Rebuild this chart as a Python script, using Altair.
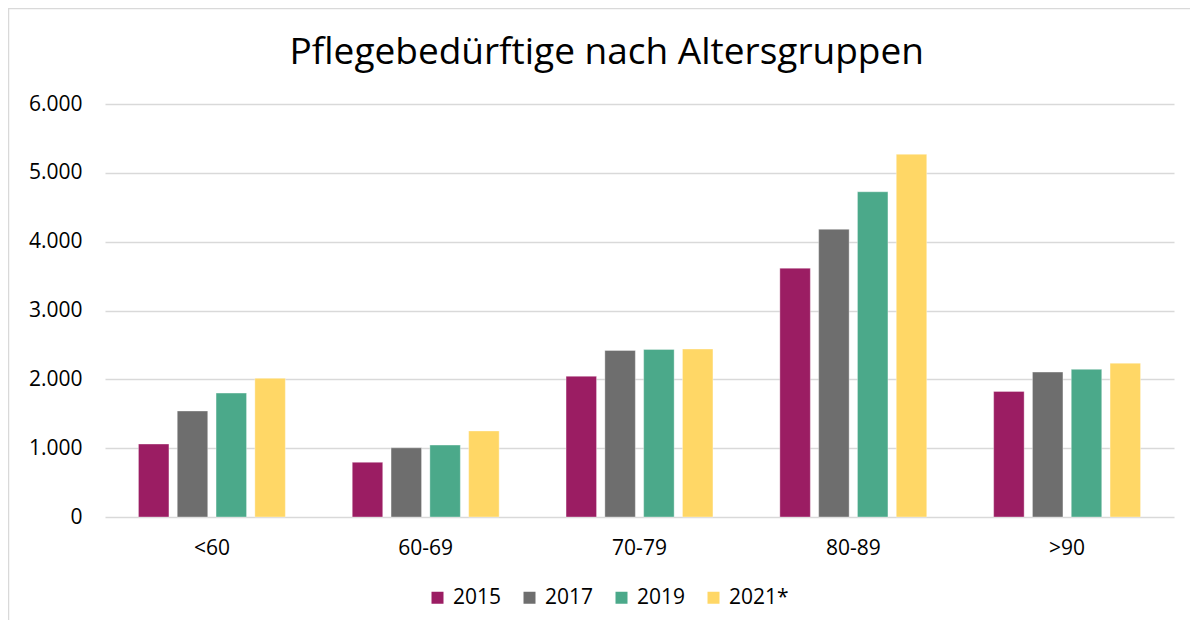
import altair as alt
import pandas as pd

categories = ["<60", "60-69", "70-79", "80-89", ">90"]
years = ["2015", "2017", "2019", "2021*"]
v2015 = [1060, 795, 2045, 3615, 1825]
v2017 = [1540, 1005, 2420, 4180, 2105]
v2019 = [1800, 1045, 2435, 4725, 2145]
v2021 = [2015, 1250, 2440, 5270, 2235]
colors = ["#9B1D63", "#6E6E6E", "#4BA98A", "#FFD766"]

series = [v2015, v2017, v2019, v2021]
rows = []
for y, vals in zip(years, series):
    for c, v in zip(categories, vals):
        rows.append({"Altersgruppe": c, "Jahr": y, "Wert": v})
df = pd.DataFrame(rows)

FONT = "Open Sans"

bars = alt.Chart(df).mark_bar(stroke="white", strokeWidth=0.6, strokeOpacity=0.6).encode(
    x=alt.X("Altersgruppe:N", sort=categories, title=None,
            scale=alt.Scale(paddingInner=0, paddingOuter=0),
            axis=alt.Axis(labelAngle=0, domain=False, ticks=False, labelPadding=20,
                          labelFontSize=21, labelColor="#000000", labelFont=FONT)),
    xOffset=alt.XOffset("Jahr:N", sort=years,
                        scale=alt.Scale(paddingInner=0.214, paddingOuter=0.862)),
    y=alt.Y("Wert:Q", title=None,
            scale=alt.Scale(domain=[0, 6000]),
            axis=alt.Axis(values=[0, 1000, 2000, 3000, 4000, 5000, 6000],
                          labelExpr="replace(format(datum.value, ','), ',', '.')",
                          domain=False, ticks=False, labelPadding=23,
                          labelFontSize=21, labelColor="#000000", labelFont=FONT,
                          gridColor="#D9D9D9", gridWidth=1.5)),
    color=alt.Color("Jahr:N", sort=years,
                    scale=alt.Scale(domain=years, range=colors),
                    legend=alt.Legend(title=None, orient="none", direction="horizontal",
                                      legendX=322, legendY=483, symbolType="square",
                                      symbolSize=144, symbolStrokeWidth=0,
                                      labelFontSize=21, labelFont=FONT, labelColor="#000000",
                                      labelOffset=5, columnPadding=17, padding=0)),
)

frame = alt.Chart(pd.DataFrame({"a": [0]})).mark_rect(
    fill=None, stroke="#D9D9D9", strokeWidth=1.5
).encode(
    x=alt.value(-96.5), x2=alt.value(1100),
    y=alt.value(-95.5), y2=alt.value(540),
)

chart = alt.layer(frame, bars).properties(
    width=1069,
    height=413,
    title=alt.TitleParams("Pflegebedürftige nach Altersgruppen", font=FONT, fontSize=37,
                          fontWeight="normal", color="#000000", anchor="middle",
                          frame="bounds", offset=-64),
    autosize=alt.AutoSizeParams(type="none"),
    padding={"left": 97, "top": 96, "right": 16, "bottom": 103},
).configure_view(stroke=None)

chart.save("out.html", embed_options={"renderer": "svg", "actions": False})
